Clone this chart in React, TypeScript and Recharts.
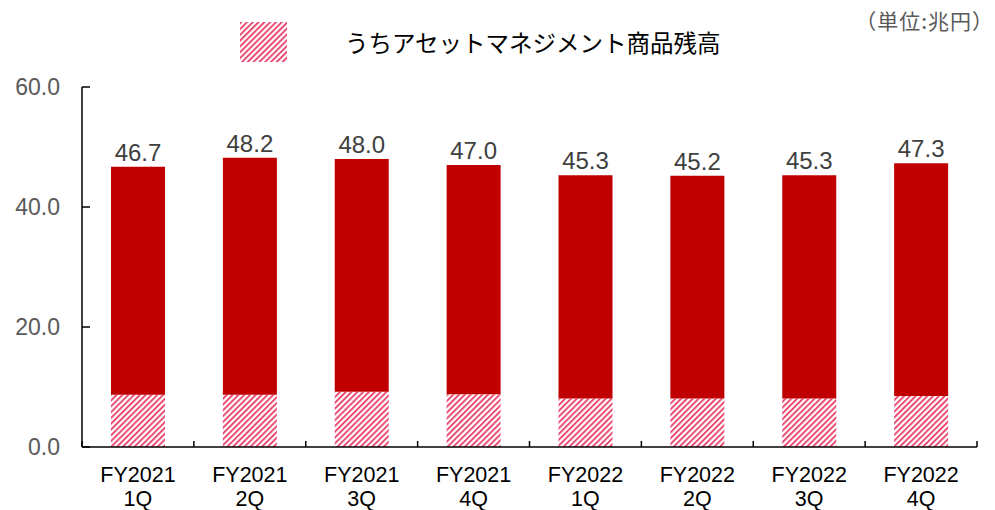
import React from 'react';
import { BarChart, Bar, XAxis, YAxis, LabelList } from 'recharts';

const fiscalYears = ['FY2021', 'FY2021', 'FY2021', 'FY2021', 'FY2022', 'FY2022', 'FY2022', 'FY2022'];
const quarters = ['1Q', '2Q', '3Q', '4Q', '1Q', '2Q', '3Q', '4Q'];
const assetMgmtValues = [8.7, 8.7, 9.2, 8.8, 8.1, 8.1, 8.1, 8.5];
const otherValues = [38.0, 39.5, 38.8, 38.2, 37.2, 37.1, 37.2, 38.8];
const totalLabels = ['46.7', '48.2', '48.0', '47.0', '45.3', '45.2', '45.3', '47.3'];
const yTicks = [0, 20, 40, 60];
const legendLabel = 'うちアセットマネジメント商品残高';
const unitLabel = '（単位:兆円）';

const data = fiscalYears.map((fy, i) => ({
  name: fy + '\n' + quarters[i],
  asset: assetMgmtValues[i],
  other: otherValues[i],
  total: totalLabels[i],
}));

const LATIN = '"Liberation Sans", Arial, sans-serif';
const CJK = '"Noto Sans CJK JP", "Liberation Sans", sans-serif';

const XTick = (props: any) => {
  const { x, y, payload, index, visibleTicksCount, width } = props;
  const half = payload && payload.offset != null ? payload.offset : width / visibleTicksCount / 2;
  const lines = String(payload.value).split('\n');
  return (
    <g>
      <line x1={x - half} x2={x - half} y1={y} y2={y - 6} stroke="#000" strokeWidth={1.5} />
      {index === visibleTicksCount - 1 && (
        <line x1={x + half} x2={x + half} y1={y} y2={y - 6} stroke="#000" strokeWidth={1.5} />
      )}
      <text x={x} y={y} textAnchor="middle" fill="#000" fontSize={21.5} fontFamily={LATIN}>
        <tspan x={x} dy={35}>{lines[0]}</tspan>
        <tspan x={x} dy={23.5}>{lines[1]}</tspan>
      </text>
    </g>
  );
};

export default function App() {
  return (
    <div
      style={{
        position: 'absolute',
        left: 0,
        top: 0,
        width: 995,
        height: 510,
        background: '#fff',
        overflow: 'hidden',
      }}
    >
      <svg width={47} height={40} style={{ position: 'absolute', left: 240, top: 22 }}>
        <defs>
          <pattern id="hatch" patternUnits="userSpaceOnUse" width={4.1} height={4.1} patternTransform="rotate(45)">
            <rect x={0} y={0} width={4.1} height={4.1} fill="#ffffff" />
            <rect x={0} y={0} width={1.9} height={4.1} fill="#EA4770" />
          </pattern>
        </defs>
        <rect x={0} y={0} width={47} height={40} fill="url(#hatch)" />
      </svg>
      <div
        style={{
          position: 'absolute',
          left: 345,
          top: 30,
          fontSize: 23.5,
          lineHeight: '24px',
          fontFamily: CJK,
          color: '#000',
          whiteSpace: 'nowrap',
        }}
      >
        {legendLabel}
      </div>
      <div
        style={{
          position: 'absolute',
          right: 1,
          top: 9,
          fontSize: 21,
          lineHeight: '22px',
          letterSpacing: 1,
          fontFamily: CJK,
          color: '#595959',
          whiteSpace: 'nowrap',
        }}
      >
        {unitLabel}
      </div>
      <div style={{ position: 'absolute', left: 0, top: 0 }}>
        <BarChart width={995} height={510} data={data} margin={{ top: 87, right: 18, left: 0, bottom: 0 }}>
          <XAxis
            dataKey="name"
            height={63}
            axisLine={{ stroke: '#000', strokeWidth: 1.5 }}
            tickLine={false}
            tickSize={0}
            tickMargin={0}
            interval={0}
            tick={<XTick />}
          />
          <YAxis
            width={82}
            domain={[0, 60]}
            ticks={yTicks}
            tickFormatter={(v: number) => v.toFixed(1)}
            axisLine={{ stroke: '#000', strokeWidth: 1.5 }}
            tickLine={{ stroke: '#000', strokeWidth: 1.5 }}
            tickSize={-8}
            tickMargin={30}
            tick={{ fill: '#595959', fontSize: 23, fontFamily: LATIN }}
          />
          <Bar dataKey="asset" stackId="a" barSize={54} fill="url(#hatch)" isAnimationActive={false} />
          <Bar dataKey="other" stackId="a" barSize={54} fill="#C00000" isAnimationActive={false}>
            <LabelList dataKey="total" position="top" offset={6} fill="#404040" fontSize={24} fontFamily={LATIN} />
          </Bar>
        </BarChart>
      </div>
    </div>
  );
}
